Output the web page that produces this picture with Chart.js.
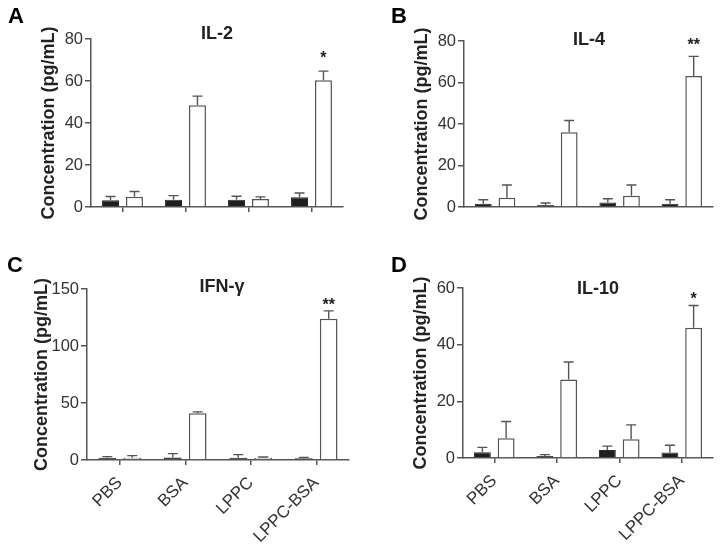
<!DOCTYPE html>
<html>
<head>
<meta charset="utf-8">
<script src="https://cdn.jsdelivr.net/npm/chart.js@4"></script>
<style>
  body { margin: 0; background: #fff; width: 727px; height: 545px; position: relative; overflow: hidden; }
  canvas { position: absolute; }
</style>
</head>
<body>
<canvas id="cA" width="363" height="250" style="left:0;top:0"></canvas>
<canvas id="cB" width="364" height="250" style="left:363px;top:0"></canvas>
<canvas id="cC" width="363" height="300" style="left:0;top:245px"></canvas>
<canvas id="cD" width="364" height="300" style="left:363px;top:245px"></canvas>
<script>
// data
const categories = ["PBS", "BSA", "LPPC", "LPPC-BSA"];

const il2Black = [3.2, 3.5, 3.5, 4.6];
const il2BlackSd = [1.8, 1.9, 1.6, 2.1];
const il2White = [4.9, 48.5, 3.8, 60.4];
const il2WhiteSd = [2.5, 4.3, 1.0, 4.3];
const il2Stars = ["", "", "", "*"];

const il4Black = [1.6, 1.0, 2.2, 1.6];
const il4BlackSd = [1.9, 0.9, 1.8, 1.9];
const il4White = [4.5, 36, 5.4, 63.1];
const il4WhiteSd = [6.1, 5.7, 5.2, 9.5];
const il4Stars = ["", "", "", "**"];

const ifnBlack = [2, 2.3, 2, 1.5];
const ifnBlackSd = [1, 3.3, 2.7, 0.8];
const ifnWhite = [2, 41, 2, 124];
const ifnWhiteSd = [1.8, 1.2, 0.6, 6.8];
const ifnStars = ["", "", "", "**"];

const il10Black = [2, 0.7, 2.8, 1.9];
const il10BlackSd = [1.75, 0.5, 1.4, 2.6];
const il10White = [7, 27.7, 6.6, 46];
const il10WhiteSd = [5.9, 6.2, 5.1, 7.8];
const il10Stars = ["", "", "", "*"];

const FONT = "'Liberation Sans', Arial, Helvetica, sans-serif";

// error bars, stars, panel letter and title
const decor = {
  id: "decor",
  afterDatasetsDraw(chart, args, o) {
    const ctx = chart.ctx;
    const y = chart.scales.y;
    ctx.save();
    ctx.strokeStyle = "#555";
    ctx.lineWidth = 1.4;
    o.sd.forEach((sds, di) => {
      const meta = chart.getDatasetMeta(di);
      meta.data.forEach((bar, i) => {
        const top = y.getPixelForValue(chart.data.datasets[di].data[i] + sds[i]);
        ctx.beginPath();
        ctx.moveTo(bar.x, bar.y);
        ctx.lineTo(bar.x, top);
        ctx.moveTo(bar.x - 5, top);
        ctx.lineTo(bar.x + 5, top);
        ctx.stroke();
        if (di == 1 && o.stars[i]) {
          ctx.fillStyle = "#222";
          ctx.font = "bold 16px " + FONT;
          ctx.textAlign = "center";
          ctx.textBaseline = "alphabetic";
          ctx.fillText(o.stars[i], bar.x, top - o.starGap + 9);
        }
      });
    });
    ctx.fillStyle = "#000";
    ctx.font = "bold 22px " + FONT;
    ctx.textAlign = "left";
    ctx.textBaseline = "alphabetic";
    ctx.fillText(o.letter, o.letterX, o.letterY);
    ctx.fillStyle = "#222";
    ctx.font = "bold 18px " + FONT;
    ctx.textAlign = "center";
    ctx.textBaseline = "middle";
    ctx.fillText(o.title, o.titleX, o.titleY);
    ctx.restore();
  },
};

function makePanel(id, p) {
  const canvas = document.getElementById(id);
  const W = canvas.width, H = canvas.height;
  return new Chart(canvas, {
    type: "bar",
    data: {
      labels: categories,
      datasets: [
        {
          data: p.black,
          backgroundColor: "#1e1e1e",
          borderColor: "#2a2a2a",
          borderWidth: 1,
          categoryPercentage: 0.76,
          barPercentage: 0.71,
        },
        {
          data: p.white,
          backgroundColor: "#fff",
          borderColor: "#555",
          borderWidth: 1.5,
          categoryPercentage: 0.76,
          barPercentage: 0.71,
        },
      ],
    },
    options: {
      responsive: false,
      animation: false,
      events: [],
      layout: {
        padding: { left: 0, top: p.top, right: W - p.right, bottom: 0 },
      },
      plugins: {
        legend: { display: false },
        tooltip: { enabled: false },
        decor: {
          sd: [p.blackSd, p.whiteSd],
          stars: p.stars,
          starGap: p.starGap,
          letter: p.letter,
          letterX: p.letterX,
          letterY: p.letterY,
          title: p.title,
          titleX: p.titleX,
          titleY: p.titleY,
        },
      },
      scales: {
        x: {
          offset: true,
          afterFit: (s) => { s.height = H - p.bottom; },
          grid: {
            display: p.xTicks,
            offset: false,
            drawOnChartArea: false,
            drawTicks: true,
            tickLength: 5,
            color: "#555",
            lineWidth: 1.5,
          },
          border: { color: "#555", width: 1.5 },
          ticks: {
            display: p.xLabels,
            autoSkip: false,
            minRotation: 45,
            maxRotation: 45,
            padding: 8,
            color: "#333",
            font: { family: FONT, size: 17 },
          },
        },
        y: {
          min: 0,
          max: p.max,
          afterFit: (s) => { s.width = p.left; },
          grid: {
            drawOnChartArea: false,
            drawTicks: true,
            tickLength: 6,
            color: "#555",
            lineWidth: 1.5,
          },
          border: { color: "#555", width: 1.5 },
          ticks: {
            stepSize: p.step,
            padding: 2,
            color: "#333",
            font: { family: FONT, size: 16.5 },
          },
          title: {
            display: true,
            text: "Concentration (pg/mL)",
            color: "#222",
            padding: { top: p.yTitlePad, bottom: 0 },
            font: { family: FONT, size: 18, weight: "bold" },
          },
        },
      },
    },
    plugins: [decor],
  });
}

makePanel("cA", {
  black: il2Black, blackSd: il2BlackSd, white: il2White, whiteSd: il2WhiteSd, stars: il2Stars,
  max: 80, step: 20, title: "IL-2", letter: "A",
  left: 91, right: 343, top: 39, bottom: 207, yTitlePad: 38,
  titleX: 217, titleY: 34, letterX: 8, letterY: 23, starGap: 17,
  xTicks: true, xLabels: false,
});
makePanel("cB", {
  black: il4Black, blackSd: il4BlackSd, white: il4White, whiteSd: il4WhiteSd, stars: il4Stars,
  max: 80, step: 20, title: "IL-4", letter: "B",
  left: 101, right: 350, top: 41, bottom: 207, yTitlePad: 48,
  titleX: 226, titleY: 40.5, letterX: 28, letterY: 23, starGap: 15.5,
  xTicks: false, xLabels: false,
});
makePanel("cC", {
  black: ifnBlack, blackSd: ifnBlackSd, white: ifnWhite, whiteSd: ifnWhiteSd, stars: ifnStars,
  max: 150, step: 50, title: "IFN-\u03b3", letter: "C",
  left: 87, right: 349, top: 44, bottom: 215, yTitlePad: 31,
  titleX: 222, titleY: 42, letterX: 7, letterY: 27, starGap: 9.5,
  xTicks: true, xLabels: true,
});
makePanel("cD", {
  black: il10Black, blackSd: il10BlackSd, white: il10White, whiteSd: il10WhiteSd, stars: il10Stars,
  max: 60, step: 20, title: "IL-10", letter: "D",
  left: 100, right: 350, top: 43, bottom: 213, yTitlePad: 47,
  titleX: 235, titleY: 44, letterX: 28, letterY: 27, starGap: 11,
  xTicks: true, xLabels: true,
});
</script>
</body>
</html>
